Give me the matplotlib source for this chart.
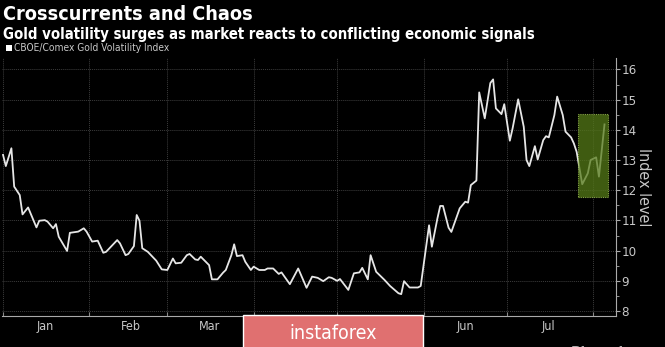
import numpy as np
import pandas as pd
import matplotlib
matplotlib.use("Agg")
import matplotlib.pyplot as plt
import matplotlib.dates as mdates
from matplotlib.patches import Rectangle

# CBOE/Comex Gold Volatility Index, 2019
dates = [
    "2019-01-01", "2019-01-02", "2019-01-04", "2019-01-05", "2019-01-07", "2019-01-08",
    "2019-01-10", "2019-01-13", "2019-01-14", "2019-01-16", "2019-01-17", "2019-01-19",
    "2019-01-20", "2019-01-21", "2019-01-24", "2019-01-25", "2019-01-28", "2019-01-30",
    "2019-01-31", "2019-02-02", "2019-02-04", "2019-02-06", "2019-02-07", "2019-02-11",
    "2019-02-12", "2019-02-14", "2019-02-15", "2019-02-17", "2019-02-18", "2019-02-19",
    "2019-02-20", "2019-02-22", "2019-02-25", "2019-02-27", "2019-03-01", "2019-03-03",
    "2019-03-04", "2019-03-06", "2019-03-08", "2019-03-09", "2019-03-11", "2019-03-12",
    "2019-03-13", "2019-03-16", "2019-03-17", "2019-03-19", "2019-03-21", "2019-03-22",
    "2019-03-24", "2019-03-25", "2019-03-26", "2019-03-28", "2019-03-29", "2019-03-31",
    "2019-04-01", "2019-04-03", "2019-04-05", "2019-04-06", "2019-04-08", "2019-04-10",
    "2019-04-11", "2019-04-14", "2019-04-17", "2019-04-20", "2019-04-22", "2019-04-24",
    "2019-04-26", "2019-04-28", "2019-04-29", "2019-05-01", "2019-05-02", "2019-05-05",
    "2019-05-07", "2019-05-09", "2019-05-10", "2019-05-12", "2019-05-13", "2019-05-15",
    "2019-05-18", "2019-05-20", "2019-05-21", "2019-05-23", "2019-05-24", "2019-05-25",
    "2019-05-27", "2019-05-30", "2019-05-31", "2019-06-03", "2019-06-04", "2019-06-06",
    "2019-06-07", "2019-06-08", "2019-06-10", "2019-06-11", "2019-06-14", "2019-06-16",
    "2019-06-17", "2019-06-18", "2019-06-20", "2019-06-21", "2019-06-23", "2019-06-25",
    "2019-06-26", "2019-06-27", "2019-06-29", "2019-06-30", "2019-07-02", "2019-07-03",
    "2019-07-05", "2019-07-07", "2019-07-08", "2019-07-09", "2019-07-11", "2019-07-12",
    "2019-07-14", "2019-07-15", "2019-07-16", "2019-07-18", "2019-07-19", "2019-07-21",
    "2019-07-22", "2019-07-24", "2019-07-25", "2019-07-26", "2019-07-28", "2019-07-30",
    "2019-07-31", "2019-08-02", "2019-08-03", "2019-08-05",
]
gvz = [
    13.17, 12.80, 13.39, 12.12, 11.84, 11.20,
    11.43, 10.77, 10.99, 11.01, 10.96, 10.74,
    10.88, 10.46, 9.99, 10.59, 10.63, 10.74,
    10.63, 10.30, 10.33, 9.93, 9.96, 10.35,
    10.24, 9.85, 9.89, 10.15, 11.18, 10.99,
    10.08, 9.96, 9.67, 9.38, 9.36, 9.74,
    9.58, 9.60, 9.85, 9.89, 9.71, 9.69,
    9.80, 9.52, 9.05, 9.05, 9.27, 9.36,
    9.85, 10.21, 9.82, 9.85, 9.63, 9.36,
    9.47, 9.36, 9.36, 9.41, 9.41, 9.23,
    9.28, 8.89, 9.41, 8.77, 9.14, 9.10,
    8.99, 9.12, 9.10, 9.00, 9.06, 8.70,
    9.25, 9.28, 9.43, 9.05, 9.85, 9.30,
    9.03, 8.83, 8.75, 8.59, 8.56, 8.99,
    8.78, 8.78, 8.83, 10.84, 10.13, 11.07,
    11.48, 11.48, 10.76, 10.62, 11.40, 11.62,
    11.59, 12.17, 12.32, 15.24, 14.38, 15.55,
    15.67, 14.71, 14.52, 14.85, 13.64, 14.05,
    15.01, 14.10, 13.00, 12.80, 13.46, 13.02,
    13.66, 13.79, 13.75, 14.49, 15.10, 14.49,
    13.94, 13.75, 13.55, 13.27, 12.20, 12.56,
    13.00, 13.09, 12.45, 14.18,
]
# highlighted window (dates and index range)
box_dates = ["2019-07-26 14:00", "2019-08-06 10:00"]
box_range = [11.79, 14.52]
y_ticks = [8, 9, 10, 11, 12, 13, 14, 15, 16]

dates = pd.to_datetime(dates)
box_dates = pd.to_datetime(box_dates)

grey = "#c8c8c8"
cond = dict(family="DejaVu Sans", fontstretch="condensed")

fig = plt.figure(figsize=(6.65, 3.47), dpi=100, facecolor="black")
ax = fig.add_axes([0.003, 0.090, 0.9233, 0.743])
ax.set_facecolor("black")

ax.plot(dates, gvz, color="#e6e6e6", lw=1.3, zorder=3)

# green highlight over the latest moves
x0, x1 = mdates.date2num(box_dates)
ax.add_patch(Rectangle((x0, box_range[0]), x1 - x0, box_range[1] - box_range[0],
                       facecolor="#557a18", alpha=0.75, edgecolor="#a8cc5a",
                       lw=0.8, ls=(0, (1, 1)), zorder=4))

ax.set_xlim(pd.Timestamp("2018-12-31 15:00"), pd.Timestamp("2019-08-09 03:00"))
ax.set_ylim(7.844, 16.38)

# month boundaries as major ticks, labels in the middle of each month
months = pd.date_range("2019-01-01", "2019-08-01", freq="MS")
ax.set_xticks(months)
ax.set_xticklabels([])
mids = [m + pd.Timedelta(days=15) for m in months[:-1]]
ax.set_xticks(mids, minor=True)
ax.set_xticklabels([m.strftime("%b") for m in mids], minor=True, color=grey,
                   fontsize=9, **cond)
ax.tick_params(axis="x", which="major", direction="in", length=3, color="#888888")
ax.tick_params(axis="x", which="minor", length=0, pad=3)

ax.yaxis.tick_right()
ax.yaxis.set_label_position("right")
ax.set_yticks(y_ticks)
ax.set_yticklabels([str(t) for t in y_ticks], color=grey, fontsize=9.5, **cond)
ax.set_yticks(np.arange(8.5, 16.5, 1), minor=True)
ax.tick_params(axis="y", which="major", direction="out", length=3, color="#aaaaaa", pad=1)
ax.tick_params(axis="y", which="minor", direction="out", length=2, color="#aaaaaa")
ax.set_ylabel("Index level", color=grey, fontsize=11.5, rotation=270, labelpad=10, **cond)

ax.grid(True, which="major", color="#3c3c3c", lw=0.7, ls=(0, (1, 1)))
for s in ["top", "left"]:
    ax.spines[s].set_visible(False)
for s in ["bottom", "right"]:
    ax.spines[s].set_color("#aaaaaa")
    ax.spines[s].set_linewidth(0.8)

# titles and legend
fig.text(0.004, 0.985, "Crosscurrents and Chaos", color="white", fontsize=14.2,
         fontweight="bold", va="top", **cond)
fig.text(0.004, 0.922, "Gold volatility surges as market reacts to conflicting economic signals",
         color="white", fontsize=10.7, fontweight="bold", va="top", **cond)
fig.patches.append(Rectangle((0.009, 0.853), 0.009, 0.017, transform=fig.transFigure,
                             facecolor="white", edgecolor="none"))
fig.text(0.021, 0.861, "CBOE/Comex Gold Volatility Index", color=grey, fontsize=7.3,
         va="center", **cond)

# watermark box and cut-off source
fig.patches.append(Rectangle((0.3654, -0.02), 0.2707, 0.112, transform=fig.transFigure,
                             facecolor="#e07070", edgecolor="white", lw=1))
fig.text(0.5008, 0.040, "instaforex", color="white", fontsize=14, ha="center",
         va="center", **cond)
fig.text(0.858, -0.04, "Bloomberg", color="#aaaaaa", fontsize=11, va="bottom",
         fontweight="bold", **cond)

fig.savefig("out.png", dpi=100, facecolor="black")
